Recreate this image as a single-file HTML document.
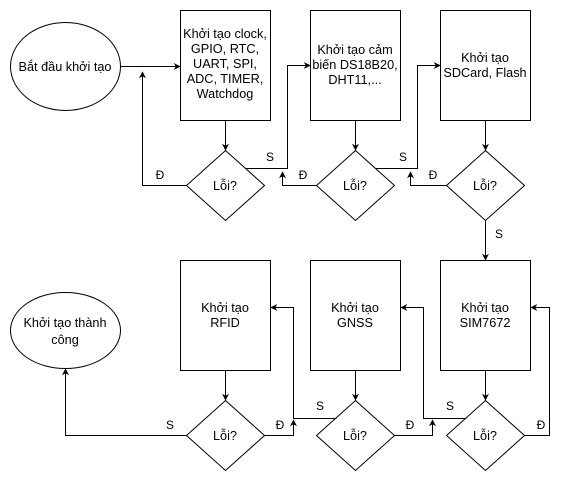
<!DOCTYPE html>
<html><head><meta charset="utf-8"><style>
html,body{margin:0;padding:0;background:#fff;}
svg{display:block;}
text{font-family:"Liberation Sans",Arial,sans-serif;font-size:12.7px;fill:#000;}
text.s{font-size:12px;}
</style></head><body>
<svg width="569" height="481" viewBox="0 0 569 481" xmlns="http://www.w3.org/2000/svg">
<defs><marker id="a" viewBox="0 0 10 10" refX="9" refY="5" markerWidth="7" markerHeight="7" orient="auto" markerUnits="userSpaceOnUse"><path d="M0,0 L10,5 L0,10 L3,5 z" fill="#000"/></marker></defs>
<g fill="#fff" stroke="#000" stroke-width="1">
<ellipse cx="65.5" cy="66.5" rx="55" ry="44"/>
<ellipse cx="65.5" cy="330.5" rx="55" ry="38"/>
<rect x="180.5" y="10.5" width="90" height="110"/>
<rect x="310.5" y="10.5" width="90" height="110"/>
<rect x="440.5" y="10.5" width="90" height="110"/>
<rect x="180.5" y="260.5" width="90" height="110"/>
<rect x="310.5" y="260.5" width="90" height="110"/>
<rect x="440.5" y="260.5" width="90" height="110"/>
<polygon points="225.5,150.5 264.5,185.5 225.5,220.5 186.5,185.5"/>
<polygon points="355.5,150.5 394.5,185.5 355.5,220.5 316.5,185.5"/>
<polygon points="485.5,150.5 524.5,185.5 485.5,220.5 446.5,185.5"/>
<polygon points="225.5,400.5 264.5,435.5 225.5,470.5 186.5,435.5"/>
<polygon points="355.5,400.5 394.5,435.5 355.5,470.5 316.5,435.5"/>
<polygon points="485.5,400.5 524.5,435.5 485.5,470.5 446.5,435.5"/>
</g>
<g fill="none" stroke="#000" stroke-width="1" marker-end="url(#a)">
<path d="M120.5,66.5 H180"/>
<path d="M225.5,120.5 V150"/>
<path d="M355.5,120.5 V150"/>
<path d="M485.5,120.5 V150"/>
<path d="M186.5,185.5 H142.5 V72"/>
<path d="M245.5,168.5 H287.5 V65.5 H310"/>
<path d="M316.5,185.5 H282.5 V172"/>
<path d="M375.5,168.5 H417.5 V65.5 H440"/>
<path d="M446.5,185.5 H410.5 V172"/>
<path d="M485.5,220.5 V260"/>
<path d="M225.5,370.5 V400"/>
<path d="M355.5,370.5 V400"/>
<path d="M485.5,370.5 V400"/>
<path d="M186.5,435.5 H65.5 V369"/>
<path d="M264.5,435.5 H293.5 V420"/>
<path d="M336.5,418.5 H293.5 V307.5 H271"/>
<path d="M394.5,435.5 H432.5 V420"/>
<path d="M466.5,418.5 H423.5 V307.5 H401"/>
<path d="M524.5,435.5 H549.5 V307.5 H531"/>
</g>
<g text-anchor="middle">
<text x="65" y="71">Bắt đầu khởi tạo</text>
<text x="65" y="327">Khởi tạo thành</text>
<text x="65" y="344">công</text>
<text x="225" y="38">Khởi tạo clock,</text>
<text x="225" y="53">GPIO, RTC,</text>
<text x="225" y="68">UART, SPI,</text>
<text x="225" y="83">ADC, TIMER,</text>
<text x="225" y="98">Watchdog</text>
<text x="355" y="54">Khởi tạo cảm</text>
<text x="355" y="69">biến DS18B20,</text>
<text x="355" y="84">DHT11,...</text>
<text x="485" y="62">Khởi tạo</text>
<text x="485" y="77">SDCard, Flash</text>
<text x="225" y="312">Khởi tạo</text>
<text x="225" y="327">RFID</text>
<text x="355" y="312">Khởi tạo</text>
<text x="355" y="327">GNSS</text>
<text x="485" y="312">Khởi tạo</text>
<text x="485" y="327">SIM7672</text>
<text x="225" y="190">Lỗi?</text>
<text x="355" y="190">Lỗi?</text>
<text x="485" y="190">Lỗi?</text>
<text x="225" y="440">Lỗi?</text>
<text x="355" y="440">Lỗi?</text>
<text x="485" y="440">Lỗi?</text>
<text class="s" x="270" y="161">S</text>
<text class="s" x="160" y="179">Đ</text>
<text class="s" x="303" y="179">Đ</text>
<text class="s" x="403" y="161">S</text>
<text class="s" x="433" y="179">Đ</text>
<text class="s" x="499" y="238">S</text>
<text class="s" x="170" y="429">S</text>
<text class="s" x="280" y="429">Đ</text>
<text class="s" x="320" y="410">S</text>
<text class="s" x="410" y="429">Đ</text>
<text class="s" x="450" y="410">S</text>
<text class="s" x="541" y="429">Đ</text>
</g>
</svg>
</body></html>
